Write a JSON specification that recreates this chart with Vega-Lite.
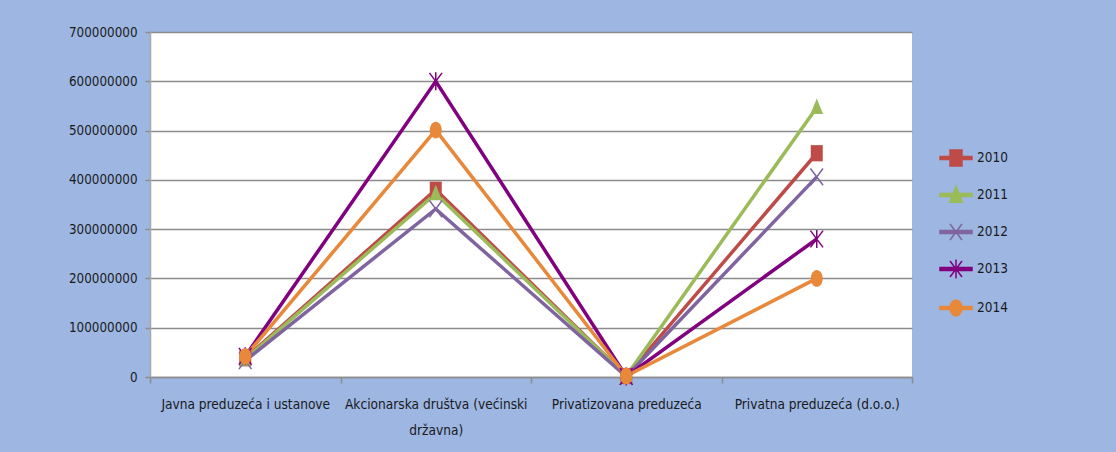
{
  "$schema": "https://vega.github.io/schema/vega-lite/v6.json",
  "width": 762,
  "height": 345,
  "autosize": {"type": "none"},
  "padding": {"left": 150, "top": 32, "right": 204, "bottom": 75},
  "background": "#9db6e2",
  "config": {
    "view": {"fill": "white", "stroke": null},
    "font": "Liberation Sans Narrow, DejaVu Sans Condensed, sans-serif"
  },
  "data": {
    "values": [
      {"category": "Javna preduzeća i ustanove", "year": "2010", "value": 38000000},
      {"category": "Akcionarska društva (većinski državna)", "year": "2010", "value": 380000000},
      {"category": "Privatizovana preduzeća", "year": "2010", "value": 2000000},
      {"category": "Privatna preduzeća (d.o.o.)", "year": "2010", "value": 454000000},
      {"category": "Javna preduzeća i ustanove", "year": "2011", "value": 36000000},
      {"category": "Akcionarska društva (većinski državna)", "year": "2011", "value": 372000000},
      {"category": "Privatizovana preduzeća", "year": "2011", "value": 2000000},
      {"category": "Privatna preduzeća (d.o.o.)", "year": "2011", "value": 547000000},
      {"category": "Javna preduzeća i ustanove", "year": "2012", "value": 33000000},
      {"category": "Akcionarska društva (većinski državna)", "year": "2012", "value": 341000000},
      {"category": "Privatizovana preduzeća", "year": "2012", "value": 1000000},
      {"category": "Privatna preduzeća (d.o.o.)", "year": "2012", "value": 406000000},
      {"category": "Javna preduzeća i ustanove", "year": "2013", "value": 42000000},
      {"category": "Akcionarska društva (većinski državna)", "year": "2013", "value": 600000000},
      {"category": "Privatizovana preduzeća", "year": "2013", "value": 1000000},
      {"category": "Privatna preduzeća (d.o.o.)", "year": "2013", "value": 280000000},
      {"category": "Javna preduzeća i ustanove", "year": "2014", "value": 42000000},
      {"category": "Akcionarska društva (većinski državna)", "year": "2014", "value": 501000000},
      {"category": "Privatizovana preduzeća", "year": "2014", "value": 2000000},
      {"category": "Privatna preduzeća (d.o.o.)", "year": "2014", "value": 200000000}
    ]
  },
  "encoding": {
    "x": {
      "field": "category",
      "type": "nominal",
      "sort": null,
      "scale": {"type": "band", "paddingInner": 0, "paddingOuter": 0},
      "axis": {
        "title": null,
        "labelAngle": 0,
        "tickBand": "extent",
        "grid": false,
        "domainColor": "#8c8c8c",
        "domainWidth": 1.5,
        "tickColor": "#8c8c8c",
        "tickWidth": 1.5,
        "tickSize": 6,
        "labelPadding": 14,
        "labelFontSize": 13.6,
        "labelColor": "#1a1a1a",
        "labelLimit": 400,
        "labelLineHeight": 26,
        "labelExpr": "datum.label == 'Akcionarska društva (većinski državna)' ? ['Akcionarska društva (većinski', 'državna)'] : datum.label"
      }
    },
    "y": {
      "field": "value",
      "type": "quantitative",
      "scale": {"domain": [0, 700000000], "nice": false},
      "axis": {
        "title": null,
        "values": [0, 100000000, 200000000, 300000000, 400000000, 500000000, 600000000, 700000000],
        "format": "d",
        "grid": true,
        "gridColor": "#8c8c8c",
        "gridWidth": 1.5,
        "domainColor": "#a6a6a6",
        "domainWidth": 1.5,
        "tickColor": "#8c8c8c",
        "tickWidth": 1.5,
        "tickSize": 5,
        "labelPadding": 8,
        "labelFontSize": 13.3,
        "labelColor": "#1a1a1a"
      }
    },
    "color": {
      "field": "year",
      "type": "nominal",
      "scale": {
        "domain": ["2010", "2011", "2012", "2013", "2014"],
        "range": ["#be4b48", "#9bbb59", "#7f64a0", "#800080", "#e8883a"]
      },
      "legend": {
        "title": null,
        "orient": "none",
        "legendX": 789,
        "legendY": 109,
        "padding": 0,
        "symbolSize": 1024,
        "rowPadding": 9,
        "labelOffset": 4,
        "labelFontSize": 13.5,
        "labelColor": "#1a1a1a",
        "symbolStrokeWidth": 1.5,
        "encode": {
          "symbols": {
            "update": {
              "shape": {"signal": "datum.value == '2010' ? 'M-1,-0.09H1V0.09H-1ZM-0.375,-0.5H0.375V0.5H-0.375Z' : datum.value == '2011' ? 'M-1,-0.09H1V0.09H-1ZM0,-0.55L0.4,0.45H-0.4Z' : datum.value == '2012' ? 'M-1,-0.09H1V0.09H-1ZM-0.375,-0.5L0.375,0.5M-0.375,0.5L0.375,-0.5' : datum.value == '2013' ? 'M-1,-0.09H1V0.09H-1ZM-0.375,-0.5L0.375,0.5M-0.375,0.5L0.375,-0.5M0,-0.6V0.6' : 'M-1,-0.09H1V0.09H-1ZM0,-0.5A0.375,0.5 0 1 1 0,0.5A0.375,0.5 0 1 1 0,-0.5Z'"},
              "fill": {"signal": "scale('color', datum.value)"},
              "stroke": {"signal": "scale('color', datum.value)"},
              "opacity": {"value": 1}
            }
          }
        }
      }
    }
  },
  "layer": [
    {
      "mark": {"type": "line", "strokeWidth": 3.5}
    },
    {
      "transform": [{"filter": "datum.year == '2010'"}],
      "mark": {"type": "point", "filled": true, "opacity": 1, "size": 144, "shape": "M-1,-1.35H1V1.35H-1Z"}
    },
    {
      "transform": [{"filter": "datum.year == '2011'"}],
      "mark": {"type": "point", "filled": true, "opacity": 1, "size": 144, "shape": "M0,-1.5L1.05,1.1H-1.05Z"}
    },
    {
      "transform": [{"filter": "datum.year == '2012'"}],
      "mark": {"type": "point", "filled": false, "opacity": 1, "size": 144, "strokeWidth": 1.5, "shape": "M-1.05,-1.4L1.05,1.4M-1.05,1.4L1.05,-1.4"}
    },
    {
      "transform": [{"filter": "datum.year == '2013'"}],
      "mark": {"type": "point", "filled": false, "opacity": 1, "size": 144, "strokeWidth": 1.5, "shape": "M-1.05,-1.4L1.05,1.4M-1.05,1.4L1.05,-1.4M0,-1.5V1.5"}
    },
    {
      "transform": [{"filter": "datum.year == '2014'"}],
      "mark": {"type": "point", "filled": true, "opacity": 1, "size": 144, "shape": "M0,-1.4A1,1.4 0 1 1 0,1.4A1,1.4 0 1 1 0,-1.4Z"}
    }
  ]
}
